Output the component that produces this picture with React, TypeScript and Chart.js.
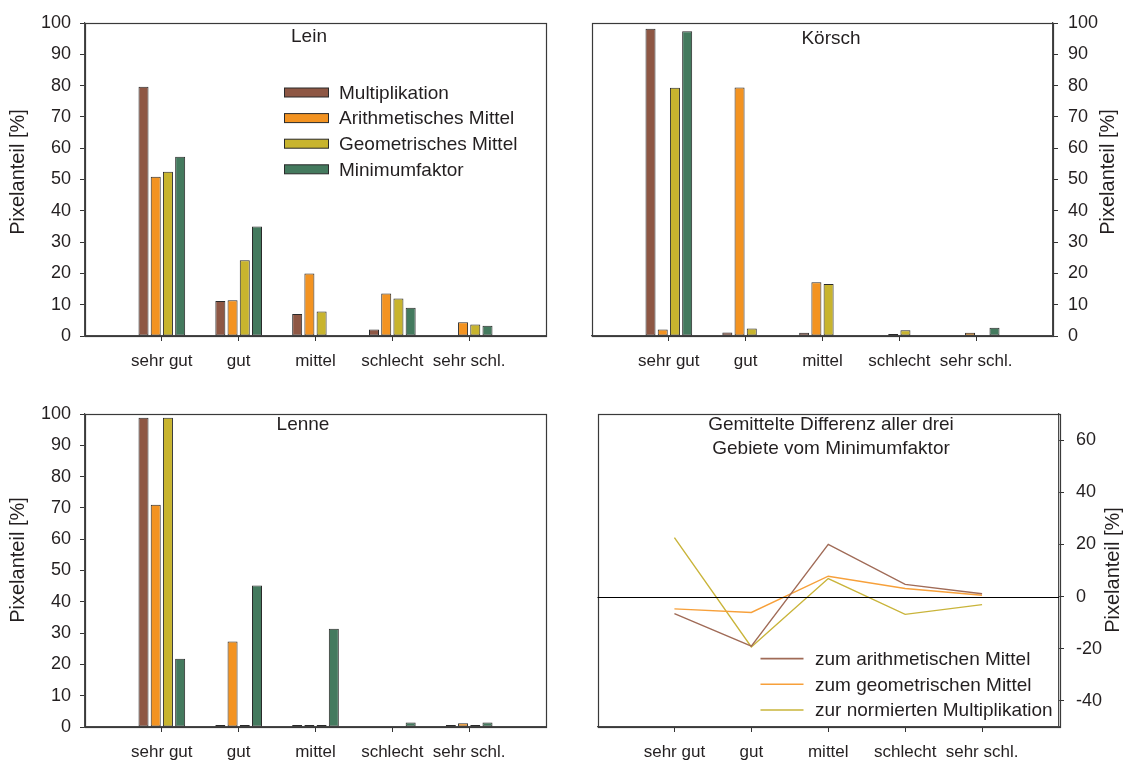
import React, { useEffect, useRef } from "react";
import { Chart, registerables } from "chart.js";

Chart.register(...registerables);

// ---------- data ----------
const categories = ["sehr gut", "gut", "mittel", "schlecht", "sehr schl."];
const seriesNames = ["Multiplikation", "Arithmetisches Mittel", "Geometrisches Mittel", "Minimumfaktor"];
const seriesColors = ["#8E5744", "#F39321", "#C8B42E", "#447A5E"];

const leinMult = [79.6, 11.2, 7.0, 2.1, null];
const leinArith = [50.9, 11.4, 20.0, 13.6, 4.4];
const leinGeo = [52.5, 24.2, 7.8, 12.0, 3.7];
const leinMin = [57.3, 35.0, null, 9.0, 3.3];

const koerschMult = [98.2, 1.1, 1.0, null, null];
const koerschArith = [2.1, 79.4, 17.2, 0.6, 1.0];
const koerschGeo = [79.3, 2.4, 16.6, 1.8, null];
const koerschMin = [97.4, null, null, null, 2.6];

const lenneMult = [98.8, 0.4, 0.3, null, 0.4];
const lenneArith = [71.0, 27.3, 0.3, null, 1.2];
const lenneGeo = [98.8, 0.5, 0.3, null, 0.4];
const lenneMin = [21.8, 45.2, 31.4, 1.4, 1.4];

const diffNames = ["zum arithmetischen Mittel", "zum geometrischen Mittel", "zur normierten Multiplikation"];
const diffColors = ["#A06B57", "#F7A03A", "#C9B43A"];
const diffArith = [-6.5, -19.0, 20.0, 4.7, 1.1];
const diffGeo = [-4.7, -6.1, 7.8, 3.1, 0.5];
const diffMult = [22.6, -19.3, 6.9, -6.8, -3.1];

const barTicks = [0, 10, 20, 30, 40, 50, 60, 70, 80, 90, 100];
const diffTicks = [-40, -20, 0, 20, 40, 60];

const axisTitleText = "Pixelanteil [%]";
const FAMILY = "'Liberation Sans', Arial, Helvetica, sans-serif";
const TEXT = "#231f20";

// ---------- decoration plugin ----------
const decorPlugin = {
  id: "decor",
  afterDraw(chart: any, _args: any, opts: any) {
    const ctx = chart.ctx as CanvasRenderingContext2D;
    const a = chart.chartArea;
    ctx.save();
    // frame
    ctx.strokeStyle = "#3a3a3a";
    ctx.lineWidth = 1.2;
    ctx.strokeRect(Math.round(a.left) + 0.5, Math.round(a.top) + 0.5, Math.round(a.right - a.left), Math.round(a.bottom - a.top));
    // zero line
    if (opts.zeroLine) {
      const y = Math.round(chart.scales.y.getPixelForValue(0)) + 0.5;
      ctx.strokeStyle = "#000";
      ctx.lineWidth = 1.2;
      ctx.beginPath();
      ctx.moveTo(a.left, y);
      ctx.lineTo(a.right, y);
      ctx.stroke();
    }
    ctx.fillStyle = TEXT;
    // title
    if (opts.title) {
      ctx.font = `19px ${FAMILY}`;
      ctx.textAlign = "center";
      ctx.textBaseline = "middle";
      opts.title.lines.forEach((line: string, i: number) => {
        ctx.fillText(line, a.left + opts.title.dx, a.top + opts.title.dy + i * 24);
      });
    }
    // axis title
    if (opts.axisTitle) {
      ctx.save();
      ctx.font = `20px ${FAMILY}`;
      ctx.textAlign = "center";
      ctx.textBaseline = "middle";
      ctx.translate(opts.axisTitle.x, opts.axisTitle.y);
      ctx.rotate(-Math.PI / 2);
      ctx.fillText(opts.axisTitle.text, 0, 0);
      ctx.restore();
    }
    // legend
    if (opts.legend) {
      const L = opts.legend;
      ctx.font = `19px ${FAMILY}`;
      ctx.textAlign = "left";
      ctx.textBaseline = "middle";
      chart.data.datasets.forEach((ds: any, i: number) => {
        const y = a.top + L.dy + i * L.rowGap;
        const x = a.left + L.dx;
        if (L.type === "box") {
          ctx.fillStyle = ds.backgroundColor;
          ctx.fillRect(x, y - 4.5, L.swatch, 9);
          ctx.strokeStyle = "#2a2a2a";
          ctx.lineWidth = 1;
          ctx.strokeRect(x + 0.5, y - 4.5, L.swatch, 9);
        } else {
          ctx.strokeStyle = ds.borderColor;
          ctx.lineWidth = 1.6;
          ctx.beginPath();
          ctx.moveTo(x, y);
          ctx.lineTo(x + L.swatch, y);
          ctx.stroke();
        }
        ctx.fillStyle = TEXT;
        ctx.fillText(ds.label, x + L.textGap, y + 1);
      });
    }
    ctx.restore();
  },
};

// ---------- config builders ----------
function xScale(height: number) {
  return {
    type: "linear",
    min: -1,
    max: 5,
    offset: false,
    afterBuildTicks: (s: any) => {
      s.ticks = categories.map((_, i) => ({ value: i }));
    },
    afterFit: (s: any) => {
      s.height = height;
    },
    grid: { drawOnChartArea: false, drawTicks: true, tickLength: 5, color: "#333", offset: false },
    border: { display: true, color: "#4a4a4a", width: 1.2 },
    ticks: {
      autoSkip: false,
      maxRotation: 0,
      padding: 10,
      color: TEXT,
      font: { size: 17, family: FAMILY },
      callback: (v: any) => categories[v] ?? "",
    },
  };
}

function yScale(position: string, width: number, min: number, max: number, tickValues: number[], padding: number) {
  return {
    type: "linear",
    position,
    min,
    max,
    afterBuildTicks: (s: any) => {
      s.ticks = tickValues.map((v) => ({ value: v }));
    },
    afterFit: (s: any) => {
      s.width = width;
    },
    grid: { drawOnChartArea: false, drawTicks: true, tickLength: 5, color: "#333" },
    border: { display: true, color: "#4a4a4a", width: 1.2 },
    ticks: { padding, color: TEXT, font: { size: 18, family: FAMILY } },
  };
}

function barConfig(values: (number | null)[][], p: any) {
  return {
    type: "bar",
    data: {
      datasets: values.map((vals, k) => ({
        label: seriesNames[k],
        data: vals.map((v, i) => ({ x: i, y: v })),
        backgroundColor: seriesColors[k],
        borderColor: "#2a2a2a",
        borderWidth: 1,
        borderSkipped: false,
        minBarLength: 2,
        categoryPercentage: 0.636,
        barPercentage: 0.82,
      })),
    },
    options: {
      responsive: false,
      animation: false,
      devicePixelRatio: 1,
      layout: { padding: p.padding },
      plugins: {
        legend: { display: false },
        tooltip: { enabled: false },
        decor: {
          title: p.title,
          axisTitle: p.axisTitle,
          legend: p.legend,
        },
      },
      scales: {
        x: xScale(p.xHeight),
        y: yScale(p.yPos, p.yWidth, 0, 100, barTicks, p.yPad),
      },
    },
    plugins: [decorPlugin],
  };
}

function lineConfig(p: any) {
  const series = [diffArith, diffGeo, diffMult];
  return {
    type: "line",
    data: {
      datasets: series.map((vals, k) => ({
        label: diffNames[k],
        data: vals.map((v, i) => ({ x: i, y: v })),
        borderColor: diffColors[k],
        backgroundColor: diffColors[k],
        borderWidth: 1.4,
        pointRadius: 0,
        tension: 0,
        fill: false,
      })),
    },
    options: {
      responsive: false,
      animation: false,
      devicePixelRatio: 1,
      layout: { padding: p.padding },
      plugins: {
        legend: { display: false },
        tooltip: { enabled: false },
        decor: {
          zeroLine: true,
          title: p.title,
          axisTitle: p.axisTitle,
          legend: p.legend,
        },
      },
      scales: {
        x: xScale(p.xHeight),
        y: yScale("right", p.yWidth, -50, 70, diffTicks, p.yPad),
      },
    },
    plugins: [decorPlugin],
  };
}

function Panel({ left, top, width, height, make }: any) {
  const ref = useRef<HTMLCanvasElement>(null);
  useEffect(() => {
    const chart = new Chart(ref.current as HTMLCanvasElement, make());
    return () => chart.destroy();
  }, []);
  return (
    <canvas
      ref={ref}
      width={width}
      height={height}
      style={{ position: "absolute", left, top, width, height }}
    />
  );
}

export default function App() {
  return (
    <div style={{ position: "fixed", left: 0, top: 0, width: 1123, height: 760, background: "#fff", overflow: "hidden" }}>
      <Panel
        left={0}
        top={0}
        width={560}
        height={380}
        make={() =>
          barConfig([leinMult, leinArith, leinGeo, leinMin], {
            padding: { left: 0, top: 23, right: 14, bottom: 0 },
            xHeight: 44,
            yPos: "left",
            yWidth: 85,
            yPad: 9,
            title: { lines: ["Lein"], dx: 224, dy: 13.5 },
            axisTitle: { text: axisTitleText, x: 18, y: 172 },
            legend: { type: "box", dx: 199, dy: 69.5, rowGap: 25.6, swatch: 44, textGap: 55 },
          })
        }
      />
      <Panel
        left={570}
        top={0}
        width={553}
        height={380}
        make={() =>
          barConfig([koerschMult, koerschArith, koerschGeo, koerschMin], {
            padding: { left: 22, top: 23, right: 0, bottom: 0 },
            xHeight: 44,
            yPos: "right",
            yWidth: 70,
            yPad: 10,
            title: { lines: ["Körsch"], dx: 239, dy: 15.5 },
            axisTitle: { text: axisTitleText, x: 538, y: 172 },
          })
        }
      />
      <Panel
        left={0}
        top={390}
        width={560}
        height={370}
        make={() =>
          barConfig([lenneMult, lenneArith, lenneGeo, lenneMin], {
            padding: { left: 0, top: 24, right: 14, bottom: 0 },
            xHeight: 33,
            yPos: "left",
            yWidth: 85,
            yPad: 9,
            title: { lines: ["Lenne"], dx: 218, dy: 10.5 },
            axisTitle: { text: axisTitleText, x: 18, y: 170 },
          })
        }
      />
      <Panel
        left={570}
        top={390}
        width={553}
        height={370}
        make={() =>
          lineConfig({
            padding: { left: 27.5, top: 24, right: 0, bottom: 0 },
            xHeight: 33,
            yWidth: 64,
            yPad: 12,
            title: { lines: ["Gemittelte Differenz aller drei", "Gebiete vom Minimumfaktor"], dx: 233.5, dy: 11 },
            axisTitle: { text: axisTitleText, x: 543, y: 180 },
            legend: { type: "line", dx: 163, dy: 244.6, rowGap: 25.7, swatch: 43, textGap: 54.5 },
          })
        }
      />
    </div>
  );
}
